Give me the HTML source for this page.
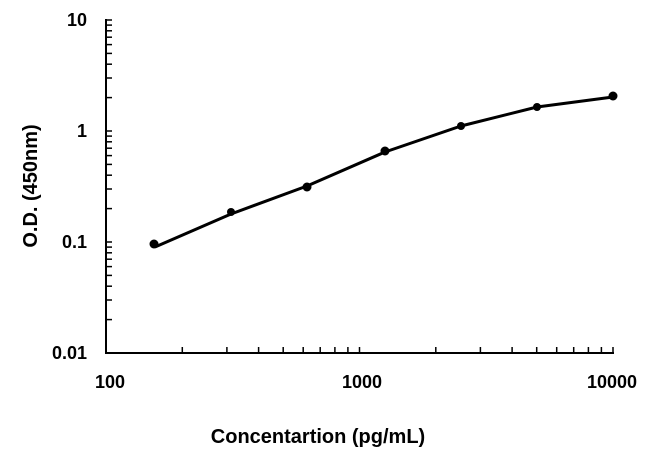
<!DOCTYPE html>
<html><head><style>body{margin:0;background:#fff}</style></head><body>
<svg width="650" height="458" xmlns="http://www.w3.org/2000/svg" font-family="Liberation Sans, sans-serif" font-weight="bold">
<g stroke="#000" stroke-width="2" fill="none">
<line x1="106" y1="19" x2="106" y2="353"/>
<line x1="105" y1="353" x2="614" y2="353"/>
</g>
<g stroke="#000" stroke-width="1.5">
<line x1="106" x2="112" y1="319.6" y2="319.6"/><line x1="106" x2="112" y1="300" y2="300"/><line x1="106" x2="112" y1="286.2" y2="286.2"/><line x1="106" x2="112" y1="275.4" y2="275.4"/><line x1="106" x2="112" y1="266.6" y2="266.6"/><line x1="106" x2="112" y1="259.2" y2="259.2"/><line x1="106" x2="112" y1="252.8" y2="252.8"/><line x1="106" x2="112" y1="247.1" y2="247.1"/><line x1="106" x2="112" y1="242" y2="242"/>
<line x1="106" x2="112" y1="208.6" y2="208.6"/><line x1="106" x2="112" y1="189" y2="189"/><line x1="106" x2="112" y1="175.2" y2="175.2"/><line x1="106" x2="112" y1="164.4" y2="164.4"/><line x1="106" x2="112" y1="155.6" y2="155.6"/><line x1="106" x2="112" y1="148.2" y2="148.2"/><line x1="106" x2="112" y1="141.8" y2="141.8"/><line x1="106" x2="112" y1="136.1" y2="136.1"/><line x1="106" x2="112" y1="131" y2="131"/>
<line x1="106" x2="112" y1="97.6" y2="97.6"/><line x1="106" x2="112" y1="78" y2="78"/><line x1="106" x2="112" y1="64.2" y2="64.2"/><line x1="106" x2="112" y1="53.4" y2="53.4"/><line x1="106" x2="112" y1="44.6" y2="44.6"/><line x1="106" x2="112" y1="37.2" y2="37.2"/><line x1="106" x2="112" y1="30.8" y2="30.8"/><line x1="106" x2="112" y1="25.1" y2="25.1"/><line x1="106" x2="112" y1="20" y2="20"/>
<line y1="353" y2="347" x1="182.3" x2="182.3"/><line y1="353" y2="347" x1="226.9" x2="226.9"/><line y1="353" y2="347" x1="258.6" x2="258.6"/><line y1="353" y2="347" x1="283.2" x2="283.2"/><line y1="353" y2="347" x1="303.2" x2="303.2"/><line y1="353" y2="347" x1="320.2" x2="320.2"/><line y1="353" y2="347" x1="334.9" x2="334.9"/><line y1="353" y2="347" x1="347.9" x2="347.9"/><line y1="353" y2="347" x1="359.5" x2="359.5"/>
<line y1="353" y2="347" x1="435.8" x2="435.8"/><line y1="353" y2="347" x1="480.4" x2="480.4"/><line y1="353" y2="347" x1="512.1" x2="512.1"/><line y1="353" y2="347" x1="536.7" x2="536.7"/><line y1="353" y2="347" x1="556.7" x2="556.7"/><line y1="353" y2="347" x1="573.7" x2="573.7"/><line y1="353" y2="347" x1="588.4" x2="588.4"/><line y1="353" y2="347" x1="601.4" x2="601.4"/><line y1="353" y2="347" x1="613" x2="613"/>
</g>
<path d="M155,247 L231,214 L307,186 L385,152 L461,126 L537,107 L613,97" stroke="#000" stroke-width="3" fill="none" stroke-linejoin="round"/>
<g fill="#000">
<circle cx="154" cy="244" r="4.5"/><circle cx="231" cy="212" r="4"/><circle cx="307" cy="187" r="4.5"/><circle cx="385" cy="151" r="4.5"/><circle cx="461" cy="126" r="4"/><circle cx="537" cy="107" r="4"/><circle cx="613" cy="96" r="4.5"/>
</g>
<g font-size="18" text-anchor="end">
<text x="87" y="26">10</text><text x="87" y="137">1</text><text x="87" y="248">0.1</text><text x="87" y="359">0.01</text>
</g>
<g font-size="18" text-anchor="middle">
<text x="110" y="388">100</text><text x="362" y="388">1000</text><text x="612" y="388">10000</text>
</g>
<text x="318" y="443" font-size="20" text-anchor="middle">Concentartion (pg/mL)</text>
<text transform="translate(37,186) rotate(-90)" font-size="20" text-anchor="middle">O.D. (450nm)</text>
</svg>
</body></html>
